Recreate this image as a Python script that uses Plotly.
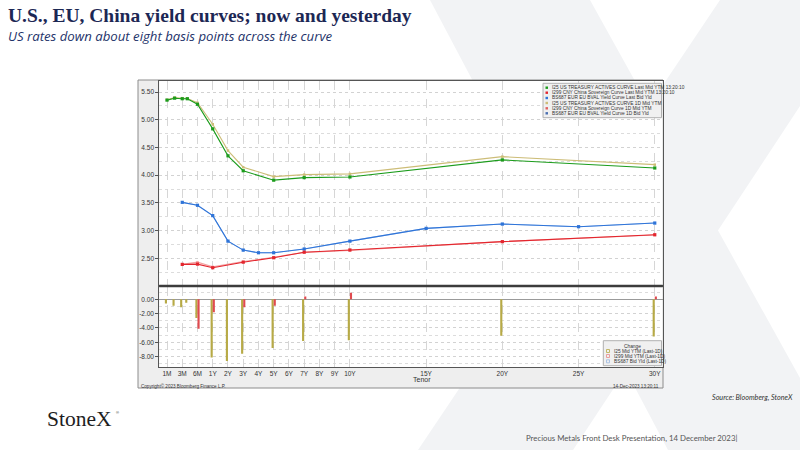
import plotly.graph_objects as go

# Bloomberg curves 14-Dec-2023: yields in %, day changes in bp
us_tenors = ["1M", "2M", "3M", "4M", "6M", "1Y", "2Y", "3Y", "5Y", "7Y", "10Y", "20Y", "30Y"]
us_last = [5.355, 5.39, 5.38, 5.38, 5.28, 4.836, 4.35, 4.08, 3.91, 3.956, 3.968, 4.276, 4.13]
us_1d = [5.36, 5.40, 5.39, 5.385, 5.307, 4.92, 4.444, 4.144, 3.974, 4.01, 4.023, 4.335, 4.19]
us_chg = [-0.6, -0.9, -1.1, -0.5, -2.6, -8.1, -8.6, -7.6, -6.8, -5.8, -5.7, -5.1, -5.2]

cn_tenors = ["3M", "6M", "1Y", "3Y", "5Y", "7Y", "10Y", "20Y", "30Y"]
cn_last = [2.39, 2.395, 2.33, 2.43, 2.51, 2.61, 2.65, 2.80, 2.925]
cn_1d = [2.39, 2.43, 2.345, 2.44, 2.52, 2.606, 2.641, 2.80, 2.921]
cn_chg = [0.0, -4.1, -1.8, -1.1, -0.9, 0.4, 0.9, 0.0, 0.4]

eu_tenors = ["3M", "6M", "1Y", "2Y", "3Y", "4Y", "5Y", "7Y", "10Y", "15Y", "20Y", "25Y", "30Y"]
eu_last = [3.51, 3.457, 3.27, 2.81, 2.648, 2.60, 2.60, 2.667, 2.81, 3.04, 3.118, 3.07, 3.136]
eu_1d = [3.51, 3.457, 3.27, 2.81, 2.648, 2.60, 2.60, 2.667, 2.81, 3.04, 3.118, 3.07, 3.136]
eu_chg = [0.0, 0.0, 0.0, 0.0, 0.0, 0.0, 0.0, 0.0, 0.0, 0.0, 0.0, 0.0, 0.0]

tick_labels = ["1M", "3M", "6M", "1Y", "2Y", "3Y", "4Y", "5Y", "6Y", "7Y", "8Y", "9Y", "10Y",
               "15Y", "20Y", "25Y", "30Y"]
y_ticks = [2.5, 3.0, 3.5, 4.0, 4.5, 5.0, 5.5]
chg_ticks = [-8, -6, -4, -2, 0]
chg_ticktext = ["-8.00", "-6.00", "-4.00", "-2.00", "0.00"]

legend_top = ["I25 US TREASURY ACTIVES CURVE Last Mid YTM 13:20:10",
              "I299 CNY China Sovereign Curve Last Mid YTM 13:20:10",
              "BS687 EUR EU BVAL Yield Curve Last Bid Yld",
              "I25 US TREASURY ACTIVES CURVE 1D Mid YTM",
              "I299 CNY China Sovereign Curve 1D Mid YTM",
              "BS687 EUR EU BVAL Yield Curve 1D Bid Yld"]
legend_chg = ["I25 Mid YTM (Last-1D)", "I299 Mid YTM (Last-1D)", "BS687 Bid Yld (Last-1D)"]


def tenor_x(t):
    # Bloomberg tenor axis: months squeezed below 6M, then one unit per year
    n = float(t[:-1])
    if t.endswith("M"):
        return -2 + (n - 1) / 2 if n <= 3 else -1 + (n - 3) / 3
    return n


W, H = 800, 450


def px(x):
    return x / W


def py(y):
    return 1 - y / H


NAVY = "#1c2754"
GREEN, TAN = "#1c9c1c", "#cdbd78"
RED, PINK = "#e3262e", "#f3a3a3"
BLUE, LBLUE = "#2f74d8", "#a9c6ee"
BAR_US, BAR_CN = "#b7aa46", "#e04a4f"
FONT = "Liberation Sans"

fig = go.Figure()


def add_curve(tenors, vals, color, size=3.2, width=1.1):
    fig.add_trace(go.Scatter(
        x=[tenor_x(t) for t in tenors], y=vals, mode="lines+markers",
        line=dict(color=color, width=width),
        marker=dict(symbol="square", size=size, color=color),
        xaxis="x", yaxis="y", showlegend=False, cliponaxis=False))


add_curve(eu_tenors, eu_1d, LBLUE, 2.5)
add_curve(cn_tenors, cn_1d, PINK, 2.5)
add_curve(us_tenors, us_1d, TAN, 2.5)
add_curve(eu_tenors, eu_last, BLUE)
add_curve(cn_tenors, cn_last, RED)
add_curve(us_tenors, us_last, GREEN)

for tenors, chg, color, off in [(us_tenors, us_chg, BAR_US, -0.14),
                                (cn_tenors, cn_chg, BAR_CN, 0.0),
                                (eu_tenors, eu_chg, BLUE, 0.14)]:
    fig.add_trace(go.Bar(
        x=[tenor_x(t) for t in tenors], y=chg, width=0.14, offset=off,
        marker=dict(color=color, line_width=0),
        xaxis="x2", yaxis="y2", showlegend=False))

tickpos = [tenor_x(t) for t in tick_labels]
common_x = dict(domain=[px(159.3), px(662.7)], range=[-2.505, 30.52],
                tickvals=tickpos, showgrid=True, gridcolor="#d6d6d6", griddash="dash",
                zeroline=False, showline=True, linecolor="#555", mirror=True, ticks="")
common_y = dict(showgrid=True, gridcolor="#d2d2d2", griddash="dot", showline=True,
                linecolor="#555", mirror=True, ticks="outside", ticklen=3, tickcolor="#555",
                tickfont=dict(size=6.5, color="#333", family=FONT))

fig.update_layout(
    width=W, height=H, margin=dict(l=0, r=0, t=0, b=0),
    paper_bgcolor="white", plot_bgcolor="white", barmode="overlay",
    font=dict(family=FONT, color="#333"),
    xaxis=dict(**common_x, anchor="y", showticklabels=False),
    xaxis2=dict(**common_x, anchor="y2", matches="x", ticktext=tick_labels,
                tickfont=dict(size=6.5, color="#333", family=FONT)),
    yaxis=dict(**common_y, domain=[py(285), py(81)], range=[2.018, 5.70],
               tickvals=y_ticks, tickformat=".2f", zeroline=False,
               minor=dict(dtick=0.25, tick0=0, showgrid=True, gridcolor="#dcdcdc",
                          griddash="dot", ticks="")),
    yaxis2=dict(**common_y, domain=[py(367), py(287)], range=[-9.44, 1.71],
                tickvals=chg_ticks, ticktext=chg_ticktext, zeroline=True,
                zerolinecolor="#9a9a9a", zerolinewidth=1,
                minor=dict(dtick=1, tick0=0, showgrid=True, gridcolor="#dcdcdc",
                           griddash="dot", ticks="")),
)


def poly(points):
    return "M " + " L ".join(f"{px(x):.4f},{py(y):.4f}" for x, y in points) + " Z"


WM = "#f2f3f5"
shapes = [
    # faint StoneX "X" watermark
    dict(type="path", path=poly([(430, 0), (590, 0), (840, 450), (668, 450)])),
    dict(type="path", path=poly([(720, 0), (870, 0), (573, 450), (418, 450)])),
]
for s in shapes:
    s.update(xref="paper", yref="paper", fillcolor=WM, line_width=0, layer="below")

# Bloomberg chart frame and white plotting area
shapes += [
    dict(type="rect", xref="paper", yref="paper", x0=px(138), x1=px(663), y0=py(388), y1=py(80),
         fillcolor="#eeeeee", line=dict(color="#8c8c8c", width=1), layer="below"),
    dict(type="rect", xref="paper", yref="paper", x0=px(159.3), x1=px(662.7), y0=py(367), y1=py(81),
         fillcolor="white", line_width=0, layer="below"),
    dict(type="line", xref="paper", yref="paper", x0=px(159.3), x1=px(662.7), y0=py(286), y1=py(286),
         line=dict(color="#3c3c3c", width=2.5)),
    # legend boxes
    dict(type="rect", xref="paper", yref="paper", x0=px(543), x1=px(661.5), y0=py(117.7), y1=py(83.3),
         fillcolor="#f0f0f0", line=dict(color="#b0b0b0", width=1)),
    dict(type="rect", xref="paper", yref="paper", x0=px(603.3), x1=px(661.5), y0=py(365.7), y1=py(340.7),
         fillcolor="#f0f0f0", line=dict(color="#b0b0b0", width=1)),
]

annotations = []


def text(x, y, s, size, color="#333", family=FONT, xanchor="left", yanchor="middle"):
    annotations.append(dict(x=px(x), y=py(y), xref="paper", yref="paper", text=s,
                            showarrow=False, xanchor=xanchor, yanchor=yanchor,
                            font=dict(size=size, color=color, family=family)))


top_rows = [87.7, 92.7, 98.0, 103.0, 108.3, 113.3]
for label, color, yy in zip(legend_top, [GREEN, RED, BLUE, TAN, "#e06060", "#4a6fb0"], top_rows):
    shapes.append(dict(type="rect", xref="paper", yref="paper", x0=px(545.5), x1=px(548),
                       y0=py(yy + 1.2), y1=py(yy - 1.2), fillcolor=color, line_width=0))
    text(549.5, yy, label, 4.8)

text(632.3, 346, "Change", 4.8, xanchor="center")
for label, color, yy in zip(legend_chg, [BAR_US, "#e88a8a", "#9ab8e0"], [351, 356, 361.3]):
    shapes.append(dict(type="rect", xref="paper", yref="paper", x0=px(606.5), x1=px(609.5),
                       y0=py(yy + 1.5), y1=py(yy - 1.5), fillcolor="rgba(0,0,0,0)",
                       line=dict(color=color, width=0.8)))
    text(611.5, yy, label, 4.8)

text(410.5, 379, "Tenor", 7)
text(139, 386, "Copyright© 2023 Bloomberg Finance L.P.", 4.6)
text(661, 386, "14-Dec-2023 13:20:11", 4.6, xanchor="right")

# slide texts
text(6, 15.5, "<b>U.S., EU, China yield curves; now and yesterday</b>", 19.5, NAVY, "Liberation Serif")
text(6, 36, "<i>US rates down about eight basis points across the curve</i>", 13.2, "#24336a",
     "Open Sans")
text(795, 397.5, "<i>Source: Bloomberg, StoneX</i>", 7.2, "#333", "Lato", xanchor="right")
text(45, 419, "StoneX", 21.5, "#1e1e1e", "Liberation Serif")
text(114, 412, "®", 4, "#1e1e1e")
text(524, 437.7, "Precious Metals Front Desk Presentation, 14 December 2023|", 7.8, "#555", "Lato")

fig.update_layout(shapes=shapes, annotations=annotations)

fig.write_html("out.html", config={"displayModeBar": False},
               post_script="document.body.style.margin='0';document.body.style.overflow='hidden';")
